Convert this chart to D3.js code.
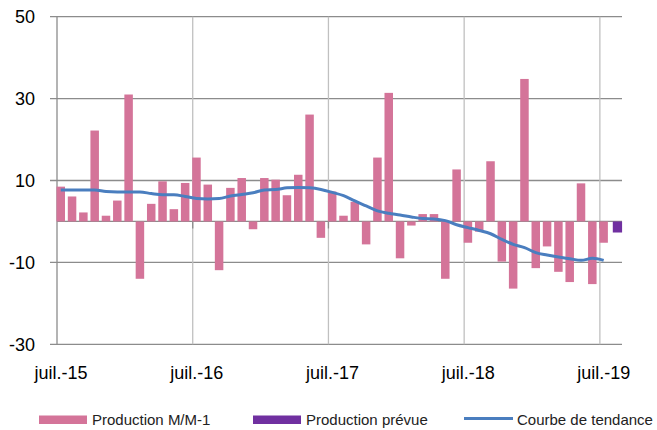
<!DOCTYPE html>
<html>
<head>
<meta charset="utf-8">
<script src="https://cdn.jsdelivr.net/npm/d3@7"></script>
<style>
  body { margin: 0; background: #fff; }
  svg { display: block; font-family: "Liberation Sans", Arial, sans-serif; }
</style>
</head>
<body>
<svg id="chart" width="657" height="430"></svg>
<script>
// months Jul-15 .. Aug-19
const months = d3.timeMonths(new Date(2015, 6, 1), new Date(2019, 8, 1));

const productionMM1 = [
  8.5, 6.1, 2.2, 22.2, 1.4, 5.1, 31.0, -14.0, 4.3, 9.8, 3.0, 9.4,
  15.6, 9.0, -11.9, 8.2, 10.6, -1.9, 10.6, 10.2, 6.4, 11.4, 26.1, -4.0,
  7.3, 1.4, 4.8, -5.6, 15.6, 31.4, -9.0, -1.0, 1.8, 1.8, -14.0, 12.7,
  -5.2, -2.5, 14.7, -9.8, -16.4, 34.8, -11.4, -6.1, -12.3, -14.8, 9.3, -15.3,
  -5.2
];
const productionPrevue = [-2.7]; // Aug-19
const tendance = [
  7.7, 7.7, 7.7, 7.7, 7.3, 7.2, 7.2, 7.2, 6.8, 6.5, 6.5, 6.1,
  5.6, 5.5, 5.6, 6.2, 6.6, 7.0, 7.7, 7.8, 8.2, 8.3, 8.2, 7.8,
  7.1, 6.3, 5.0, 3.8, 2.6, 2.0, 1.6, 1.1, 0.7, 0.6, 0.2, -0.8,
  -1.5, -2.2, -3.0, -4.4, -5.6, -6.4, -7.6, -8.2, -8.7, -9.1, -9.5, -9.0,
  -9.5
];
const yTicks = [-30, -10, 10, 30, 50];
const legendLabels = ['Production M/M-1', 'Production prévue', 'Courbe de tendance'];

const pink = '#d47499', purple = '#7030a0', blue = '#4a7ebf';
const fmt = d3.timeFormat('%m-%y');
const labelFmt = d => 'juil.-' + d3.timeFormat('%y')(d);

const svg = d3.select('#chart');

const x = d3.scaleBand()
  .domain(months.map(fmt))
  .range([57, 622.5]);
const bw = x.bandwidth();

const y = d3.scaleLinear()
  .domain([-30, 50])
  .range([344.3, 16.7]);

const julys = months.filter(d => d.getMonth() === 6);

// horizontal gridlines
svg.append('g').selectAll('line')
  .data(yTicks)
  .enter().append('line')
  .attr('x1', 50).attr('x2', 622)
  .attr('y1', d => y(d)).attr('y2', d => y(d))
  .attr('stroke', '#8c8c8c').attr('stroke-width', 1.3);

// vertical gridlines
svg.append('g').selectAll('line')
  .data(julys.slice(1))
  .enter().append('line')
  .attr('x1', d => x(fmt(d))).attr('x2', d => x(fmt(d)))
  .attr('y1', y(50)).attr('y2', y(-30))
  .attr('stroke', '#c0c0c0').attr('stroke-width', 1.3);

// y axis line
svg.append('line')
  .attr('x1', 57).attr('x2', 57)
  .attr('y1', y(50)).attr('y2', y(-30))
  .attr('stroke', '#8c8c8c').attr('stroke-width', 1.3);

// zero line + ticks
svg.append('line')
  .attr('x1', 57).attr('x2', 622)
  .attr('y1', y(0)).attr('y2', y(0))
  .attr('stroke', '#8c8c8c').attr('stroke-width', 1.3);
svg.append('g').selectAll('line')
  .data(julys.slice(1))
  .enter().append('line')
  .attr('x1', d => x(fmt(d))).attr('x2', d => x(fmt(d)))
  .attr('y1', y(0)).attr('y2', y(0) + 7)
  .attr('stroke', '#8c8c8c').attr('stroke-width', 1.3);

// y labels
svg.append('g').selectAll('text')
  .data(yTicks)
  .enter().append('text')
  .attr('x', 35).attr('y', d => y(d))
  .attr('dy', '0.36em')
  .attr('text-anchor', 'end')
  .attr('font-size', 18)
  .attr('fill', '#000')
  .text(d => d);

// x labels
svg.append('g').selectAll('text')
  .data(julys)
  .enter().append('text')
  .attr('x', d => x(fmt(d)) + 4)
  .attr('y', 379)
  .attr('text-anchor', 'middle')
  .attr('font-size', 18)
  .attr('fill', '#000')
  .text(labelFmt);

// bars M/M-1
svg.append('g').selectAll('rect')
  .data(productionMM1)
  .enter().append('rect')
  .attr('x', (d, i) => x(fmt(months[i])) - 0.5)
  .attr('width', 8.5)
  .attr('y', d => y(Math.max(0, d)))
  .attr('height', d => Math.abs(y(d) - y(0)))
  .attr('fill', pink);

// forecast bar
svg.append('g').selectAll('rect')
  .data(productionPrevue)
  .enter().append('rect')
  .attr('x', (d, i) => x(fmt(months[productionMM1.length + i])) + 1.6)
  .attr('width', 9.3)
  .attr('y', d => y(Math.max(0, d)))
  .attr('height', d => Math.abs(y(d) - y(0)))
  .attr('fill', purple);

// trend line
const line = d3.line()
  .x((d, i) => x(fmt(months[i])) + 3.8)
  .y(d => y(d))
  .curve(d3.curveMonotoneX);
svg.append('path')
  .datum(tendance)
  .attr('d', line)
  .attr('fill', 'none')
  .attr('stroke', blue)
  .attr('stroke-width', 3);

// legend
const lg = svg.append('g').attr('font-size', 15);
const items = [
  { x: 39, text: legendLabels[0], color: pink, kind: 'rect' },
  { x: 253, text: legendLabels[1], color: purple, kind: 'rect' },
  { x: 464, text: legendLabels[2], color: blue, kind: 'line' }
];
items.forEach(it => {
  if (it.kind === 'rect') {
    lg.append('rect').attr('x', it.x).attr('y', 415.5).attr('width', 48).attr('height', 8.5).attr('fill', it.color);
  } else {
    lg.append('line').attr('x1', it.x).attr('x2', it.x + 49).attr('y1', 418.5).attr('y2', 418.5)
      .attr('stroke', it.color).attr('stroke-width', 3);
  }
  lg.append('text').attr('x', it.x + 53).attr('y', 425).attr('fill', '#222').text(it.text);
});
</script>
</body>
</html>
